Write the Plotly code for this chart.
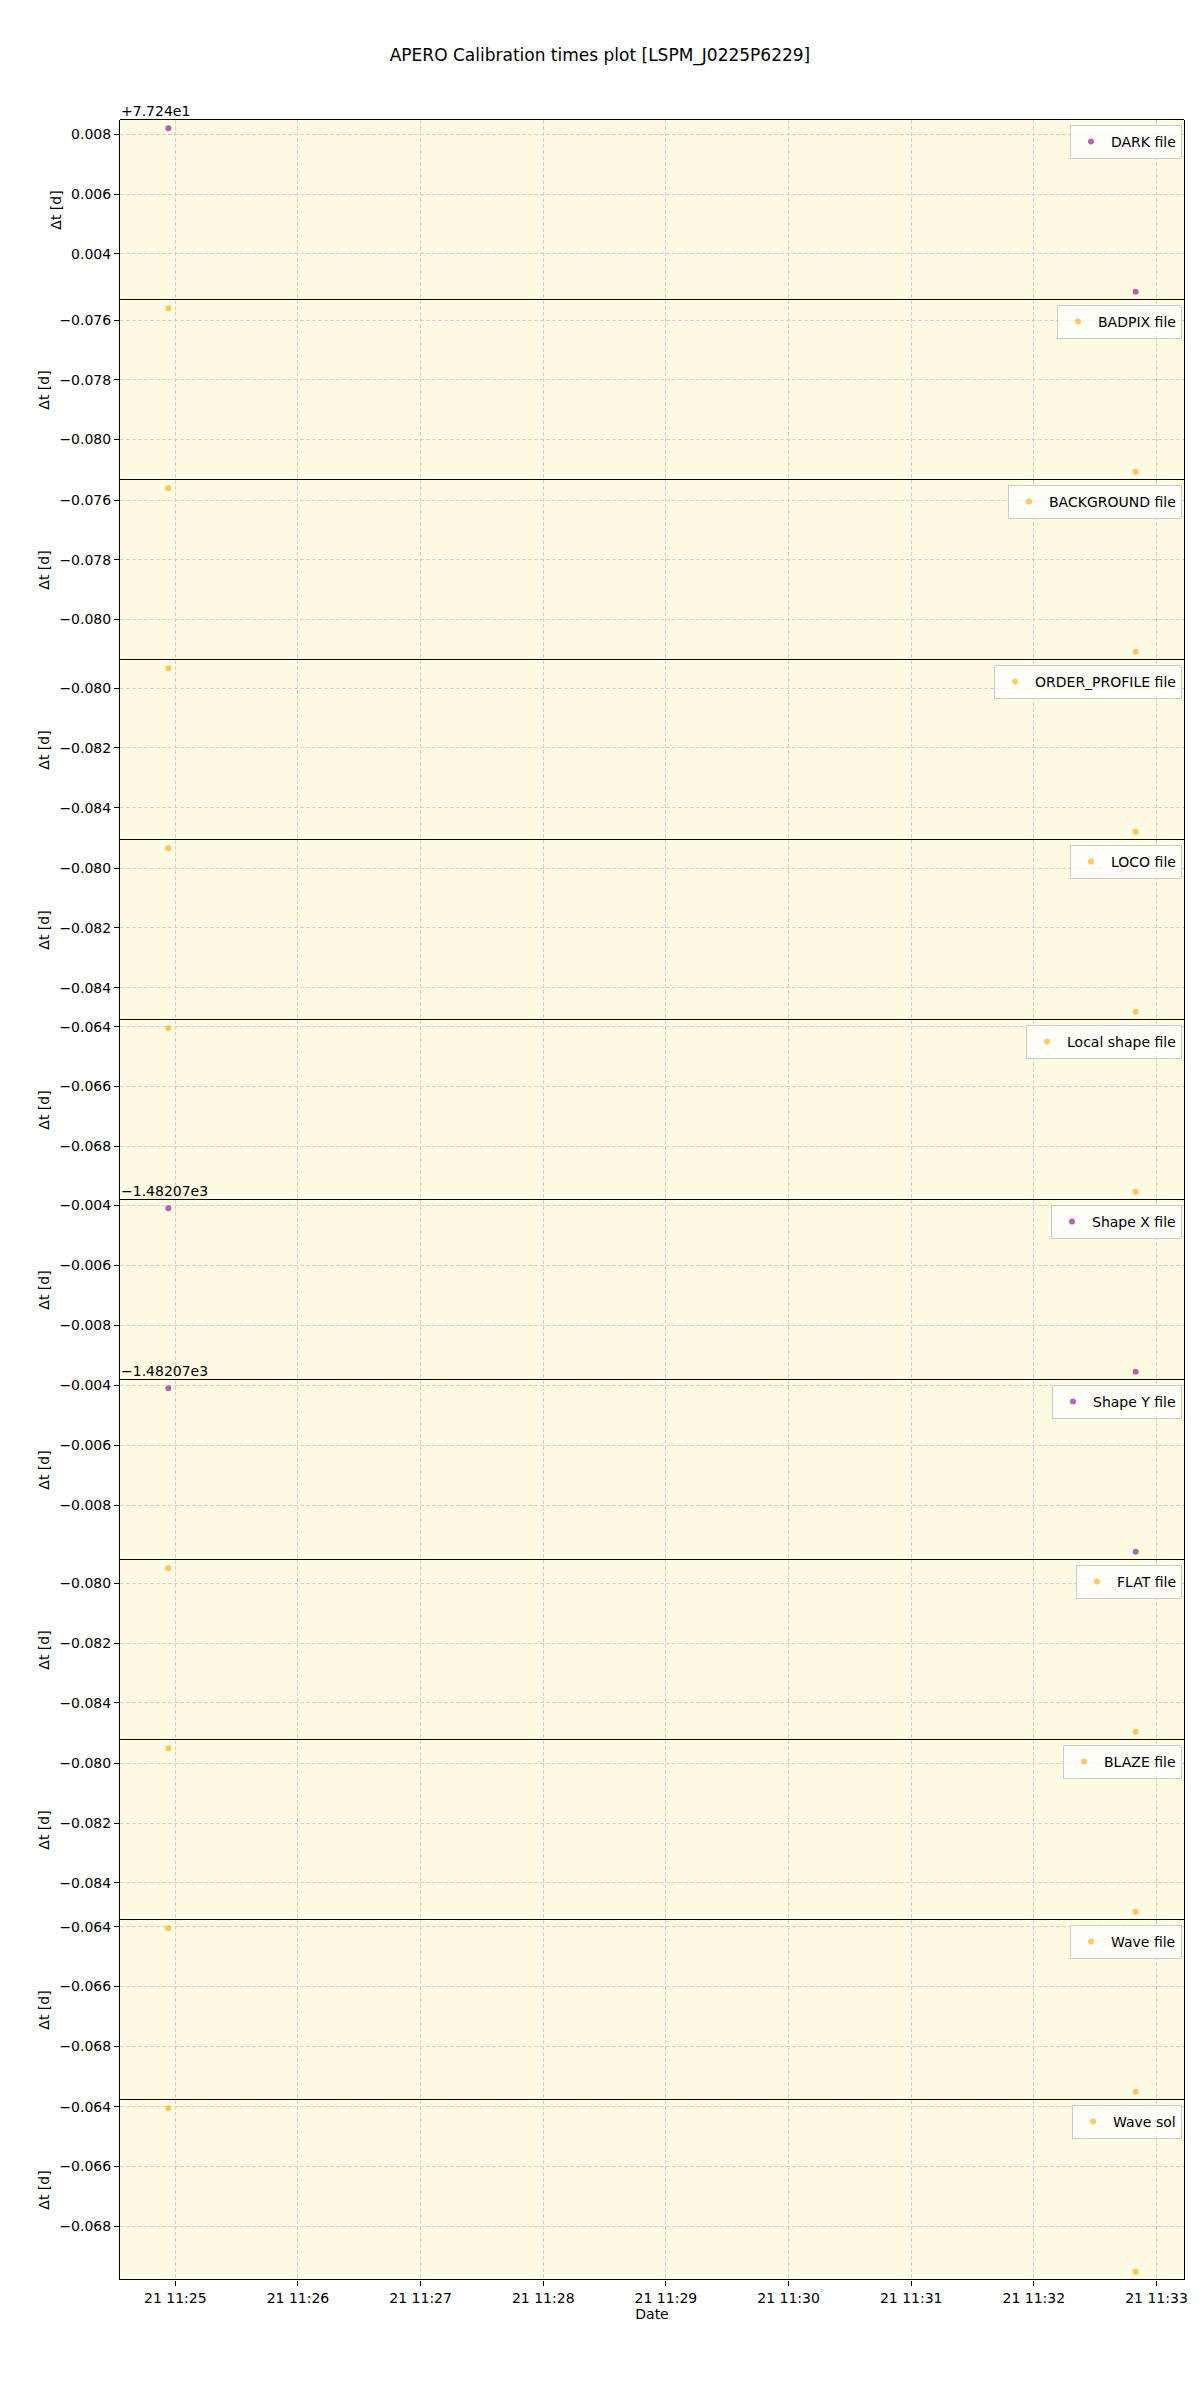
import pandas as pd
import plotly.graph_objects as go
from plotly.subplots import make_subplots

# ---- data -------------------------------------------------------------
obs_times = ["2021-09-21 11:24:56.6", "2021-09-21 11:32:49.8"]

labels = ["DARK file", "BADPIX file", "BACKGROUND file", "ORDER_PROFILE file",
          "LOCO file", "Local shape file", "Shape X file", "Shape Y file",
          "FLAT file", "BLAZE file", "Wave file", "Wave sol"]

dark = [77.2482, 77.24273]
badpix = [-0.07560, -0.08108]
background = [-0.07560, -0.08108]
order_profile = [-0.07933, -0.08481]
loco = [-0.07933, -0.08481]
local_shape = [-0.06405, -0.06953]
shape_x = [-1482.074088, -1482.079565]
shape_y = [-1482.074088, -1482.079565]
flat = [-0.07949, -0.08497]
blaze = [-0.07949, -0.08497]
wave = [-0.06405, -0.06953]
wave_sol = [-0.06405, -0.06953]

series = [dark, badpix, background, order_profile, loco, local_shape,
          shape_x, shape_y, flat, blaze, wave, wave_sol]

offsets = [77.24, 0, 0, 0, 0, 0, -1482.07, -1482.07, 0, 0, 0, 0]
offset_text = ["+7.724e1", "", "", "", "", "", "\u22121.48207e3", "\u22121.48207e3",
               "", "", "", ""]

colours = ["purple", "orange", "orange", "orange", "orange", "orange",
           "purple", "purple", "orange", "orange", "orange", "orange"]

# ---- figure -----------------------------------------------------------
# page body has an 8px margin, so the figure is made 8px smaller
W, H = 1192, 2392
ML, MR, MT, MB = 112, 12, 112, 120
PH = H - MT - MB
PW = W - ML - MR
n = len(labels)

fig = make_subplots(rows=n, cols=1, shared_xaxes=True, vertical_spacing=0)

t = pd.to_datetime(obs_times)
tspan = t.max() - t.min()
xr = [t.min() - 0.05 * tspan, t.max() + 0.05 * tspan]

font = "DejaVu Sans"
annotations = []
shapes = []
for i in range(n):
    yv = [v - offsets[i] for v in series[i]]
    lname = "legend" if i == 0 else f"legend{i+1}"
    fig.add_trace(go.Scatter(
        x=t, y=yv, mode="markers", name=labels[i],
        marker=dict(color=colours[i], size=6, opacity=0.6),
        legend=lname, showlegend=True), row=i + 1, col=1)
    lo, hi = min(yv), max(yv)
    sp = hi - lo
    fig.update_yaxes(range=[lo - 0.05 * sp, hi + 0.05 * sp], dtick=0.002,
                     tickformat=".3f", row=i + 1, col=1)
    top = 1 - i / n
    fig.update_layout({lname: dict(
        x=1 - 2 / PW, xanchor="right", xref="paper",
        y=top - 5 / PH, yanchor="top", yref="paper",
        bgcolor="rgba(255,255,255,0.8)", bordercolor="#cccccc", borderwidth=1,
        font=dict(size=14, family=font, color="black"))})
    if offset_text[i]:
        annotations.append(dict(
            text=offset_text[i], x=0, xref="paper", xanchor="left",
            y=top, yref="paper", yanchor="bottom", showarrow=False,
            font=dict(size=14, family=font, color="black"), borderpad=0))

# panel frame lines (top/bottom of each axes), half-pixel aligned
for k in range(n + 1):
    yk = (round(k * PH / n) + 0.5) / PH
    shapes.append(dict(type="line", xref="paper", yref="paper", x0=0, x1=1,
                       y0=yk, y1=yk, layer="above",
                       line=dict(color="black", width=1)))

fig.update_yaxes(
    showline=True, mirror=True, linecolor="black", linewidth=1,
    ticks="outside", ticklen=5, tickcolor="black",
    showgrid=True, gridcolor="#d3d3d3", griddash="4px,2px", gridwidth=1,
    zeroline=False, tickfont=dict(size=14, family=font, color="black"),
    title=dict(text="\u0394t [d]", font=dict(size=14, family=font, color="black"),
               standoff=6))
fig.update_xaxes(
    type="date", range=xr, dtick=60000, tickformat="%d %H:%M",
    showline=False,
    showgrid=True, gridcolor="#d3d3d3", griddash="4px,2px", gridwidth=1,
    zeroline=False, tickfont=dict(size=14, family=font, color="black"))
fig.update_xaxes(ticks="outside", ticklen=5, tickcolor="black",
                 title=dict(text="Date", font=dict(size=14, family=font, color="black"),
                            standoff=4),
                 row=n, col=1)

fig.update_layout(
    width=W, height=H,
    margin=dict(l=ML, r=MR, t=MT, b=MB),
    paper_bgcolor="white", plot_bgcolor="#fdfbe2",
    font=dict(family=font, size=14, color="black"),
    title=dict(text="APERO Calibration times plot [LSPM_J0225P6229]",
               x=(600 - 8) / W, xref="container", xanchor="center",
               y=1 - 47 / H, yref="container", yanchor="middle",
               font=dict(size=17, family=font, color="black")),
    annotations=annotations,
    shapes=shapes,
)

fig.write_html("out.html")
